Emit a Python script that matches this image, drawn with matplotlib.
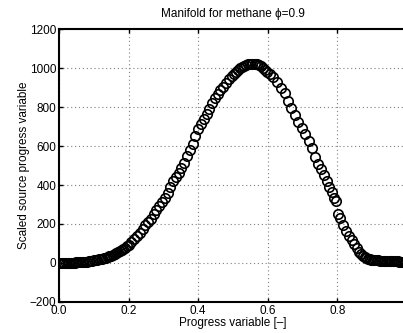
import matplotlib
matplotlib.use('Agg')
import matplotlib.pyplot as plt

plt.rcParams['font.family'] = ['Liberation Sans', 'DejaVu Sans']

# progress variable
progVar = [
    0.000, 0.005, 0.010, 0.015, 0.020, 0.025, 0.030, 0.035, 0.040, 0.045,
    0.050, 0.055, 0.060, 0.065, 0.070, 0.075, 0.080, 0.085, 0.090, 0.095,
    0.100, 0.105, 0.110, 0.115, 0.120, 0.125, 0.130, 0.135, 0.140, 0.145,
    0.150, 0.155, 0.160, 0.165, 0.170, 0.175, 0.180, 0.185, 0.190, 0.195,
    0.200, 0.208, 0.216, 0.224, 0.232, 0.240, 0.248, 0.256, 0.264, 0.272,
    0.280, 0.288, 0.296, 0.304, 0.312, 0.320, 0.328, 0.336, 0.344, 0.352,
    0.360, 0.368, 0.376, 0.384, 0.392, 0.400, 0.408, 0.416, 0.424, 0.432,
    0.440, 0.448, 0.456, 0.464, 0.472, 0.480, 0.488, 0.496, 0.502, 0.508,
    0.514, 0.520, 0.526, 0.532, 0.538, 0.544, 0.550, 0.556, 0.562, 0.568,
    0.574, 0.580, 0.586, 0.592, 0.598, 0.606, 0.616, 0.627, 0.638, 0.649,
    0.659, 0.668, 0.678, 0.688, 0.698, 0.708, 0.718, 0.727, 0.736, 0.745,
    0.753, 0.761, 0.769, 0.777, 0.785, 0.791, 0.797, 0.803, 0.808, 0.817,
    0.826, 0.834, 0.841, 0.848, 0.855, 0.862, 0.868, 0.873, 0.878, 0.883,
    0.888, 0.893, 0.898, 0.903, 0.908, 0.913, 0.918, 0.923, 0.928, 0.933,
    0.938, 0.943, 0.948, 0.953, 0.958, 0.963, 0.968, 0.973, 0.978, 0.983,
    0.988, 0.993, 0.998]

# scaled source of progress variable
srcProg = [
    0, 0, 0, 1, 1, 1, 1, 2, 2, 2,
    3, 3, 4, 4, 5, 6, 7, 8, 10, 11,
    13, 14, 16, 18, 20, 22, 25, 28, 31, 35,
    38, 42, 46, 50, 55, 60, 66, 72, 78, 85,
    92, 106, 121, 138, 156, 175, 193, 211, 228, 250,
    270, 290, 312, 335, 358, 390, 418, 440, 462, 488,
    515, 547, 580, 612, 650, 685, 714, 740, 765, 792,
    818, 844, 865, 886, 903, 925, 944, 960, 970, 982,
    992, 1000, 1006, 1012, 1016, 1019, 1021, 1022, 1021, 1018,
    1013, 1008, 999, 990, 980, 970, 954, 928, 900, 870,
    830, 795, 758, 722, 694, 660, 628, 590, 545, 510,
    483, 450, 420, 392, 362, 335, 318, 250, 232, 195,
    165, 140, 118, 95, 75, 56, 45, 36, 30, 25,
    22, 19, 17, 16, 15, 14, 13, 12, 12, 11,
    11, 10, 10, 9, 9, 8, 8, 8, 7, 7,
    7, 6, 6]

xTicks = [0, 0.2, 0.4, 0.6, 0.8]
yTicks = [-200, 0, 200, 400, 600, 800, 1000, 1200]

fig = plt.figure(figsize=(4.03, 3.33), dpi=100)
ax = fig.add_axes([0.1464, 0.0931, 0.8635, 0.8198])

ax.plot(progVar, srcProg, 'o', markerfacecolor='none', markeredgecolor='black',
        markersize=6.8, markeredgewidth=1.2)

ax.set_xlim(0, 1)
ax.set_ylim(-200, 1200)
ax.set_xticks(xTicks)
ax.set_yticks(yTicks)
ax.grid(color='#7f7f7f', linestyle=(0, (1, 2.5)), linewidth=0.8)
ax.tick_params(direction='in', top=True, right=True, labelsize=8.5, length=3, width=1, pad=2)
for s in ax.spines.values():
    s.set_linewidth(1.5)

ax.set_title('Manifold for methane ϕ=0.9', fontsize=8.5, pad=9)
ax.set_xlabel('Progress variable [–]', fontsize=8.5, labelpad=0)
ax.set_ylabel('Scaled source progress variable', fontsize=8.5, labelpad=0)

fig.savefig('out.png', dpi=100)
